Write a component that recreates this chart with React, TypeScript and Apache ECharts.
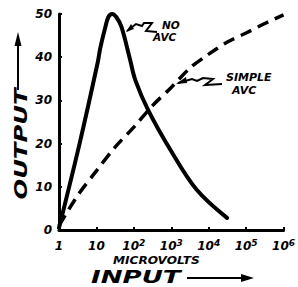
import React, { useEffect, useRef } from "react";
import * as echarts from "echarts";

// x values are decades of input (log10 of microvolts)
const noAvcX = [0, 0.55, 1.04, 1.1, 1.24, 1.32, 1.42, 1.53, 1.67, 1.9, 2.04, 2.38, 2.98, 3.68, 4.49];
const noAvcY = [0.5, 20, 39, 42, 47, 49.3, 50, 49.3, 47, 39.4, 34.7, 27.8, 18.5, 9.3, 2.8];
const simpleAvcX = [0, 0.5, 1, 1.5, 2, 2.5, 3, 3.5, 4, 4.5, 5, 5.5, 6];
const simpleAvcY = [1, 8, 13.7, 19.2, 23.8, 28.8, 33, 37.5, 40.7, 43.5, 45.6, 47.8, 49.8];
const xTickBase = ["1", "10", "10", "10", "10", "10", "10"];
const xTickExp = ["", "", "2", "3", "4", "5", "6"];
const yTicks = [0, 10, 20, 30, 40, 50];

const FONT = "DejaVu Sans";

export default function App() {
  const ref = useRef<HTMLDivElement>(null);
  useEffect(() => {
    if (!ref.current) return;
    const chart = echarts.init(ref.current, null, { renderer: "svg" });
    const txt = (text: string, x: number, y: number, size: number, extra: any = {}) => ({
      type: "text",
      x,
      y,
      ...extra,
      style: {
        text,
        fill: "#000",
        font: `italic bold ${size}px "${FONT}"`,
        lineHeight: size,
        align: "left",
        verticalAlign: "top",
      },
    });
    chart.setOption({
      animation: false,
      backgroundColor: "#fff",
      grid: { left: 59, right: 9, top: 14, bottom: 57 },
      xAxis: {
        type: "value",
        min: 0,
        max: 6,
        interval: 1,
        axisLine: { show: true, onZero: false, lineStyle: { color: "#000", width: 3 } },
        axisTick: { show: true, inside: true, length: 3, lineStyle: { color: "#000", width: 2 } },
        splitLine: { show: false },
        axisLabel: {
          margin: 8,
          color: "#000",
          formatter: (v: number) => {
            const i = Math.round(v);
            return xTickExp[i] ? `{b|${xTickBase[i]}}{s|${xTickExp[i]}}` : `{b|${xTickBase[i]}}`;
          },
          rich: {
            b: { fontSize: 12, fontStyle: "italic", fontWeight: "bold", fontFamily: FONT, color: "#000", verticalAlign: "bottom", lineHeight: 14 },
            s: { fontSize: 9, fontStyle: "italic", fontWeight: "bold", fontFamily: FONT, color: "#000", verticalAlign: "top", lineHeight: 14, padding: [0, 0, 6, 0] },
          },
        },
      },
      yAxis: {
        type: "value",
        min: 0,
        max: 50,
        interval: 10,
        axisLine: { show: true, lineStyle: { color: "#000", width: 3 } },
        axisTick: { show: true, inside: true, length: 3, lineStyle: { color: "#000", width: 2 } },
        splitLine: { show: false },
        axisLabel: {
          margin: 7,
          color: "#000",
          fontSize: 12,
          fontStyle: "italic",
          fontWeight: "bold",
          fontFamily: FONT,
          formatter: (v: number) => (yTicks.includes(v) ? String(v) : ""),
        },
      },
      series: [
        {
          name: "NO AVC",
          type: "line",
          data: noAvcX.map((x, i) => [x, noAvcY[i]]),
          smooth: 0.35,
          symbol: "none",
          lineStyle: { color: "#000", width: 4, cap: "round" },
        },
        {
          name: "SIMPLE AVC",
          type: "line",
          data: simpleAvcX.map((x, i) => [x, simpleAvcY[i]]),
          smooth: 0.3,
          symbol: "none",
          lineStyle: { color: "#000", width: 3.5, type: [12, 7] },
        },
      ],
      graphic: [
        // NO AVC label and pointer
        txt("NO", 162, 20, 10.5),
        txt("AVC", 153, 32, 10.5),
        {
          type: "polyline",
          shape: { points: [[127, 31], [136, 24], [142, 26], [144, 23], [152, 23], [146, 31], [157, 32]] },
          style: { stroke: "#000", lineWidth: 2, fill: "none" },
        },
        { type: "polygon", shape: { points: [[126, 32], [131, 24], [134, 29]] }, style: { fill: "#000" } },
        // SIMPLE AVC label and pointer
        txt("SIMPLE", 226, 72, 11),
        txt("AVC", 232, 85, 11),
        {
          type: "polyline",
          shape: { points: [[178, 83], [192, 79], [197, 81], [203, 78], [213, 79], [205, 85], [222, 84]] },
          style: { stroke: "#000", lineWidth: 2, fill: "none" },
        },
        { type: "polygon", shape: { points: [[176, 84], [186, 77], [187, 83]] }, style: { fill: "#000" } },
        // Axis titles
        txt("MICROVOLTS", 113, 255, 11, { scaleX: 1.1 }),
        txt("INPUT", 91, 268, 18, { scaleX: 1.45 }),
        {
          type: "line",
          shape: { x1: 187, y1: 278, x2: 245, y2: 278 },
          style: { stroke: "#000", lineWidth: 1.8 },
        },
        { type: "polygon", shape: { points: [[241, 274], [254, 278], [241, 282]] }, style: { fill: "#000" } },
        {
          type: "text",
          x: 21,
          y: 144,
          rotation: Math.PI / 2,
          scaleX: 1.35,
          style: {
            text: "OUTPUT",
            fill: "#000",
            font: `italic bold 18px "${FONT}"`,
            align: "center",
            verticalAlign: "middle",
          },
        },
        {
          type: "line",
          shape: { x1: 18, y1: 90, x2: 18, y2: 44 },
          style: { stroke: "#000", lineWidth: 2 },
        },
        { type: "polygon", shape: { points: [[14.5, 46], [18, 32], [21.5, 46]] }, style: { fill: "#000" } },
      ],
    });
    return () => chart.dispose();
  }, []);
  return (
    <div
      ref={ref}
      style={{ position: "fixed", left: 0, top: 0, width: 298, height: 287, background: "#fff" }}
    />
  );
}
